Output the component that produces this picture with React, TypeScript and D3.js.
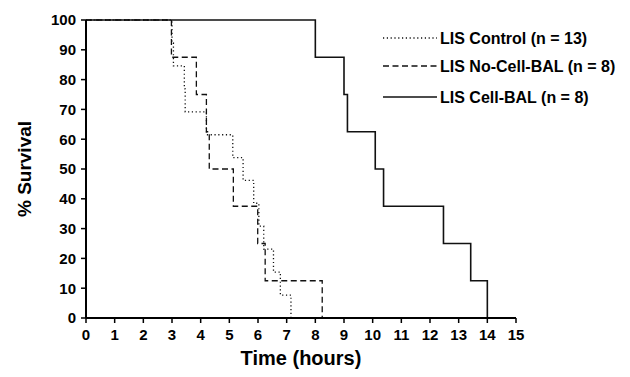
import React from "react";
import * as d3 from "d3";

const xTicks = [0, 1, 2, 3, 4, 5, 6, 7, 8, 9, 10, 11, 12, 13, 14, 15];
const yTicks = [0, 10, 20, 30, 40, 50, 60, 70, 80, 90, 100];

// event times (hours) and survival (%) after each event
const controlTimes = [3.0, 3.05, 3.43, 3.46, 4.2, 5.12, 5.48, 5.85, 6.03, 6.2, 6.54, 6.78, 7.15];
const controlSurv = [92.3, 84.6, 76.9, 69.2, 61.5, 53.8, 46.2, 38.5, 30.8, 23.1, 15.4, 7.7, 0];
const noCellTimes = [2.98, 3.85, 4.2, 4.3, 5.14, 5.99, 6.25, 8.24];
const noCellSurv = [87.5, 75, 62.5, 50, 37.5, 25, 12.5, 0];
const cellTimes = [8.0, 9.0, 9.12, 10.09, 10.38, 12.47, 13.42, 14.0];
const cellSurv = [87.5, 75, 62.5, 50, 37.5, 25, 12.5, 0];

const seriesNames = ["LIS Control (n = 13)", "LIS No-Cell-BAL (n = 8)", "LIS Cell-BAL (n = 8)"];

const W = 630, H = 377;
const FONT = "'Liberation Sans', Arial, sans-serif";

export default function App() {
  const x = d3.scaleLinear().domain([0, 15]).range([86, 516]);
  const y = d3.scaleLinear().domain([0, 100]).range([318, 20]);
  const line = d3
    .line<[number, number]>()
    .x((d) => x(d[0]))
    .y((d) => y(d[1]))
    .curve(d3.curveStepAfter);
  const mk = (ts: number[], ss: number[]) =>
    line([[0, 100] as [number, number], ...ts.map((t, i) => [t, ss[i]] as [number, number])]) || "";

  const series = [
    { name: seriesNames[0], d: mk(controlTimes, controlSurv), dash: "1.2,2.6", w: 1.3 },
    { name: seriesNames[1], d: mk(noCellTimes, noCellSurv), dash: "6,3.5", w: 1.3 },
    { name: seriesNames[2], d: mk(cellTimes, cellSurv), dash: "", w: 1.6 },
  ];
  const legY = [38, 66, 97];

  return (
    <svg width={W} height={H} style={{ position: "absolute", left: 0, top: 0, background: "#fff" }}>
      <rect width={W} height={H} fill="#fff" />
      {series.map((s, i) => (
        <path key={i} d={s.d} fill="none" stroke="#111" strokeWidth={s.w} strokeDasharray={s.dash || undefined} />
      ))}
      {/* axes */}
      <line x1={x(0)} x2={x(0)} y1={y(100)} y2={y(0)} stroke="#000" strokeWidth={2} />
      <line x1={x(0)} x2={x(15)} y1={y(0)} y2={y(0)} stroke="#000" strokeWidth={2} />
      {yTicks.map((t) => (
        <g key={"y" + t}>
          <line x1={x(0) - 5} x2={x(0)} y1={y(t)} y2={y(t)} stroke="#000" strokeWidth={1.5} />
          <text x={x(0) - 10} y={y(t)} dy="0.36em" textAnchor="end" fontFamily={FONT} fontWeight="bold" fontSize={15}>
            {t}
          </text>
        </g>
      ))}
      {xTicks.map((t) => (
        <g key={"x" + t}>
          <line x1={x(t)} x2={x(t)} y1={y(0)} y2={y(0) + 5} stroke="#000" strokeWidth={1.5} />
          <text x={x(t)} y={335} dy="0.36em" textAnchor="middle" fontFamily={FONT} fontWeight="bold" fontSize={15}>
            {t}
          </text>
        </g>
      ))}
      <text x={x(7.5)} y={358} dy="0.36em" textAnchor="middle" fontFamily={FONT} fontWeight="bold" fontSize={20}>
        Time (hours)
      </text>
      <text
        transform={`translate(24,${y(50)}) rotate(-90)`}
        dy="0.36em"
        textAnchor="middle"
        fontFamily={FONT}
        fontWeight="bold"
        fontSize={19}
      >
        % Survival
      </text>
      {/* legend */}
      {series.map((s, i) => (
        <g key={"l" + i}>
          <line x1={383} x2={437} y1={legY[i]} y2={legY[i]} stroke="#111" strokeWidth={s.w} strokeDasharray={s.dash || undefined} />
          <text x={440} y={legY[i]} dy="0.36em" fontFamily={FONT} fontWeight="bold" fontSize={16}>
            {s.name}
          </text>
        </g>
      ))}
    </svg>
  );
}
